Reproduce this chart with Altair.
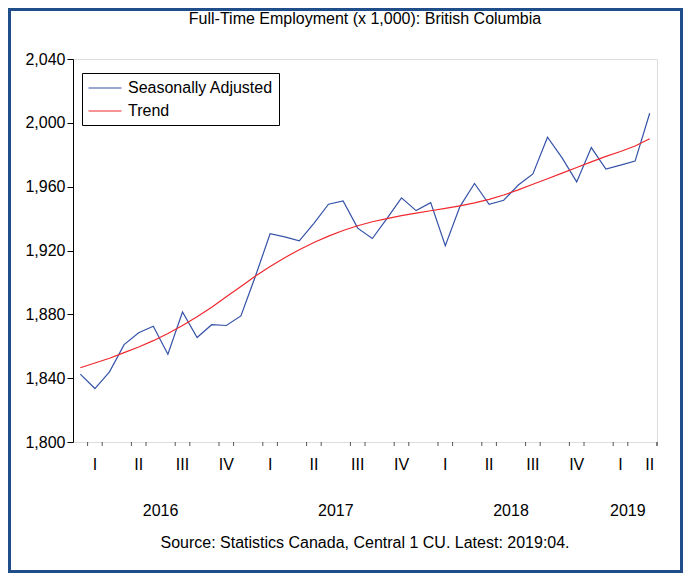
import altair as alt
import pandas as pd

# ---- data ----
month_labels = [f"{y}:{m:02d}" for y in (2016, 2017, 2018, 2019) for m in range(1, 13)][:40]
seasonally_adjusted = [
    1842.5, 1833.5, 1844.0, 1861.0, 1868.5, 1872.5, 1855.0, 1881.5, 1865.5, 1873.5,
    1873.0, 1879.0, 1904.0, 1930.5, 1928.5, 1926.0, 1937.0, 1949.0, 1951.0, 1934.0,
    1927.5, 1940.0, 1953.0, 1945.0, 1950.0, 1923.0, 1947.5, 1962.0, 1949.0, 1951.5,
    1961.0, 1968.0, 1991.0, 1978.0, 1963.0, 1984.5, 1971.0, 1973.5, 1976.0, 2006.0,
]
trend = [
    1846.5, 1849.5, 1852.5, 1856.0, 1859.5, 1863.5, 1868.0, 1873.0, 1878.5, 1884.5,
    1891.0, 1897.5, 1904.0, 1910.0, 1915.5, 1920.5, 1925.0, 1929.0, 1932.5, 1935.5,
    1938.0, 1940.0, 1941.8, 1943.4, 1944.9, 1946.4, 1948.0, 1949.8, 1952.0, 1954.8,
    1958.0, 1961.5, 1965.0, 1968.5, 1972.0, 1975.5, 1979.0, 1982.0, 1985.5, 1990.0,
]
quarter_labels = ["I", "II", "III", "IV"] * 3 + ["I", "II"]
quarter_centers = [1.5, 4.5, 7.5, 10.5, 13.5, 16.5, 19.5, 22.5, 25.5, 28.5, 31.5, 34.5, 37.5, 39.5]
year_labels = ["2016", "2017", "2018", "2019"]
year_centers = [6, 18, 30, 38]
quarter_bounds = list(range(0, 40, 3))
month_bounds = [b for b in range(0, 41) if b % 3 != 0] + [40]
y_ticks = [1800, 1840, 1880, 1920, 1960, 2000, 2040]

title_text = "Full-Time Employment (x 1,000): British Columbia"
source_text = "Source: Statistics Canada, Central 1 CU. Latest: 2019:04."
series_names = ["Seasonally Adjusted", "Trend"]
colors = ["#3552A8", "#F0282D"]

W, H = 584, 383
FONT = "Liberation Sans"

rows = []
for i, (m, a, t) in enumerate(zip(month_labels, seasonally_adjusted, trend)):
    rows.append({"pos": i + 0.5, "month": m, "series": series_names[0], "value": a})
    rows.append({"pos": i + 0.5, "month": m, "series": series_names[1], "value": t})
df = pd.DataFrame(rows)

xscale = alt.Scale(domain=[0, 40], nice=False, zero=False)

lines = alt.Chart(df).mark_line(strokeWidth=1.2, interpolate="linear").encode(
    x=alt.X("pos:Q", scale=xscale,
            axis=alt.Axis(values=quarter_bounds, labels=False, title=None, grid=False,
                          tickSize=7, tickColor="black", domainColor="black")),
    y=alt.Y("value:Q", scale=alt.Scale(domain=[1800, 2040], nice=False, zero=False),
            axis=alt.Axis(values=y_ticks, format=",d", title=None, grid=False, tickSize=6,
                          labelFontSize=16, labelFont=FONT, labelColor="black", labelPadding=2,
                          tickColor="black", domainColor="black")),
    color=alt.Color("series:N",
                    scale=alt.Scale(domain=series_names, range=colors),
                    legend=alt.Legend(title=None, orient="none", legendX=9, legendY=14,
                                      strokeColor="black", fillColor="white", padding=6,
                                      symbolType="M-2,0L2,0", symbolSize=272, symbolStrokeWidth=1.2,
                                      symbolOffset=8,
                                      labelFontSize=16, labelFont=FONT, labelColor="black",
                                      labelOffset=14, rowPadding=6, labelLimit=300)),
    order=alt.Order("series:N"),
)

mticks = alt.Chart(pd.DataFrame({"b": month_bounds})).mark_rule(color="#555555", strokeWidth=1).encode(
    x=alt.X("b:Q", scale=xscale, axis=None),
    y=alt.value(H),
    y2=alt.value(H + 4),
)

qtext = alt.Chart(pd.DataFrame({"c": quarter_centers, "q": quarter_labels})).mark_text(
    fontSize=16, font=FONT, color="black", baseline="middle"
).encode(x=alt.X("c:Q", scale=xscale, axis=None), y=alt.value(H + 23), text="q:N")

ytext = alt.Chart(pd.DataFrame({"c": year_centers, "yr": year_labels})).mark_text(
    fontSize=16, font=FONT, color="black", baseline="middle"
).encode(x=alt.X("c:Q", scale=xscale, axis=None), y=alt.value(H + 69), text="yr:N")

source = alt.Chart(pd.DataFrame({"s": [source_text]})).mark_text(
    fontSize=16, font=FONT, color="black", baseline="middle"
).encode(x=alt.value(W / 2), y=alt.value(H + 101), text="s:N")

title = alt.Chart(pd.DataFrame({"s": [title_text]})).mark_text(
    fontSize=16, font=FONT, color="black", baseline="middle"
).encode(x=alt.value(W / 2), y=alt.value(-40), text="s:N")

frame = alt.Chart(pd.DataFrame({"f": [0]})).mark_rect(
    filled=False, stroke="#1F4E8A", strokeWidth=3
).encode(x=alt.value(-63.5), x2=alt.value(608.5), y=alt.value(-49.5), y2=alt.value(512.5))

chart = alt.layer(frame, lines, mticks, qtext, ytext, source, title).properties(
    width=W, height=H,
    autosize=alt.AutoSizeParams(type="none"),
    padding={"left": 65, "top": 51, "right": 26, "bottom": 131},
).configure_view(stroke="black", strokeWidth=1).configure(background="white")

chart.save("out.html", embed_options={"renderer": "svg", "actions": False})
